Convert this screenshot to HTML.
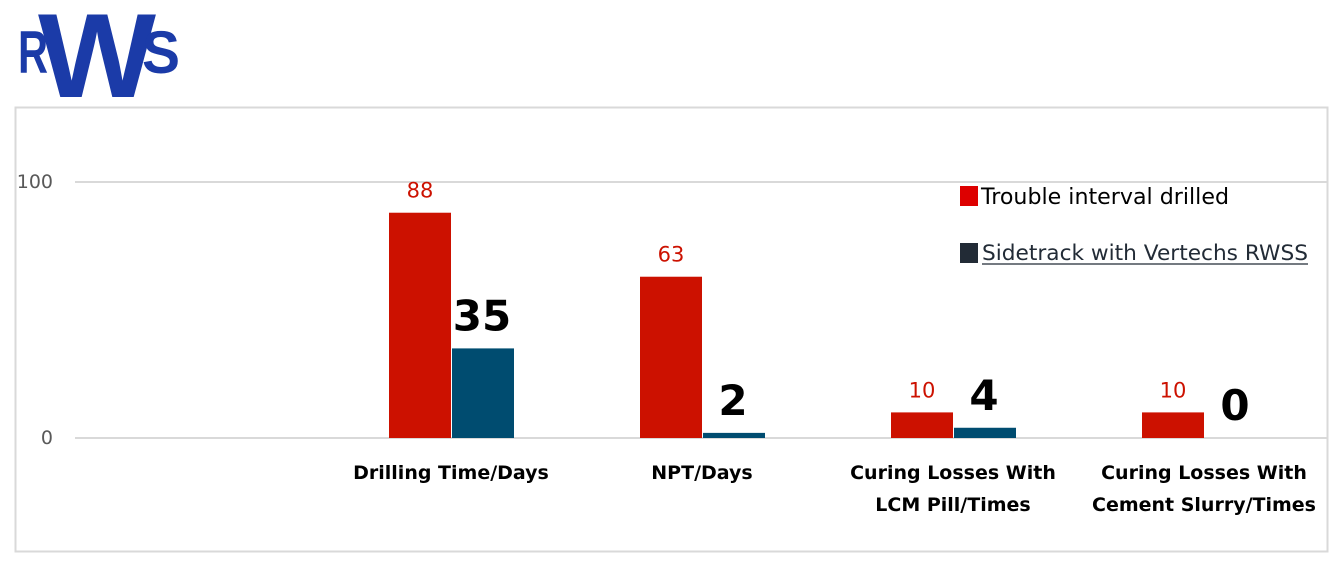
<!DOCTYPE html>
<html><head><meta charset="utf-8"><style>
html,body{margin:0;padding:0;background:#fff;}
body{width:1343px;height:566px;overflow:hidden;position:relative;font-family:"Liberation Sans",sans-serif;}
</style></head><body>
<svg width="1343" height="566" viewBox="0 0 1343 566" xmlns="http://www.w3.org/2000/svg">
  <g fill="#1b3ba8" font-family="Liberation Sans, sans-serif" font-weight="bold">
    <text x="18" y="73" font-size="60" textLength="30" lengthAdjust="spacingAndGlyphs">R</text>
    <text x="38" y="97" font-size="120" textLength="118" lengthAdjust="spacingAndGlyphs">W</text>
    <text x="142" y="73" font-size="60" textLength="38" lengthAdjust="spacingAndGlyphs">S</text>
  </g>
  <rect x="15.5" y="107.5" width="1312" height="444" fill="#fff" stroke="#d9d9d9" stroke-width="2"/>
  <g id="grid"></g>
  <g id="bars"></g>
  <g id="labels"></g>
  <g>
    <rect x="960" y="186" width="18" height="20" fill="#dd0000"/>
    <text x="981" y="204" font-size="22" fill="#000" font-family="DejaVu Sans, sans-serif" textLength="248" lengthAdjust="spacingAndGlyphs">Trouble interval drilled</text>
    <rect x="960" y="243" width="18" height="20" fill="#222b36"/>
    <text x="982" y="260" font-size="21" fill="#222b36" font-family="DejaVu Sans, sans-serif" textLength="326" lengthAdjust="spacingAndGlyphs">Sidetrack with Vertechs RWSS</text>
    <line x1="982" y1="264" x2="1308" y2="264" stroke="#222b36" stroke-width="1.2"/>
  </g>
</svg>
<script>
const categories = [["Drilling Time/Days"],["NPT/Days"],["Curing Losses With","LCM Pill/Times"],["Curing Losses With","Cement Slurry/Times"]];
const trouble = [88, 63, 10, 10];
const sidetrack = [35, 2, 4, 0];
const yTicks = [0, 100];
const NS = "http://www.w3.org/2000/svg";
const y0 = 438, y100 = 182;
function y(v){ return y0 - (y0 - y100) * v / 100; }
function cx(i){ return 451 + i * 251; }
const barW = 62;
function mk(tag, attrs, parent){ const e = document.createElementNS(NS, tag); for (const k in attrs) e.setAttribute(k, attrs[k]); parent.appendChild(e); return e; }
const grid = document.getElementById('grid'), bars = document.getElementById('bars'), labels = document.getElementById('labels');
yTicks.forEach(t => {
  const l = mk('line', {x1:75, x2:1327, y1:y(t), y2:y(t), stroke:'#d9d9d9', 'stroke-width':2}, grid);
  
  
  const tx = mk('text', {x:53, y:y(t)+6, 'text-anchor':'end', 'font-size':19, fill:'#595959', 'font-family':'DejaVu Sans, sans-serif'}, grid);
  tx.textContent = t;
  
  
});
categories.forEach((c, i) => {
  const x = cx(i);
  const h1 = y0 - y(trouble[i]);
  const r1 = mk('rect', {x:x-barW, y:y(trouble[i]), width:barW, height:h1, fill:'#cc1100'}, bars);
  
  
  const h2 = y0 - y(sidetrack[i]);
  const r2 = mk('rect', {x:x+1, y:y(sidetrack[i]), width:barW, height:h2, fill:'#004c70'}, bars);
  
  
  const v1 = mk('text', {x:x-barW/2, y:y(trouble[i])-15, 'text-anchor':'middle', 'font-size':21, fill:'#cc1100', 'font-family':'DejaVu Sans, sans-serif'}, labels);
  v1.textContent = trouble[i];
  
  
  const v2 = mk('text', {x:x+barW/2, y:y(sidetrack[i])-18, 'text-anchor':'middle', 'font-size':42, 'font-weight':'bold', fill:'#000', 'font-family':'DejaVu Sans, sans-serif'}, labels);
  v2.textContent = sidetrack[i];
  
  
  c.forEach((line, j) => {
    const t = mk('text', {x:x, y:479 + j*32, 'text-anchor':'middle', 'font-size':19, 'font-weight':'bold', fill:'#000', 'font-family':'DejaVu Sans, sans-serif'}, labels);
    t.textContent = line;
    
    
  });
});
</script>
</body></html>
